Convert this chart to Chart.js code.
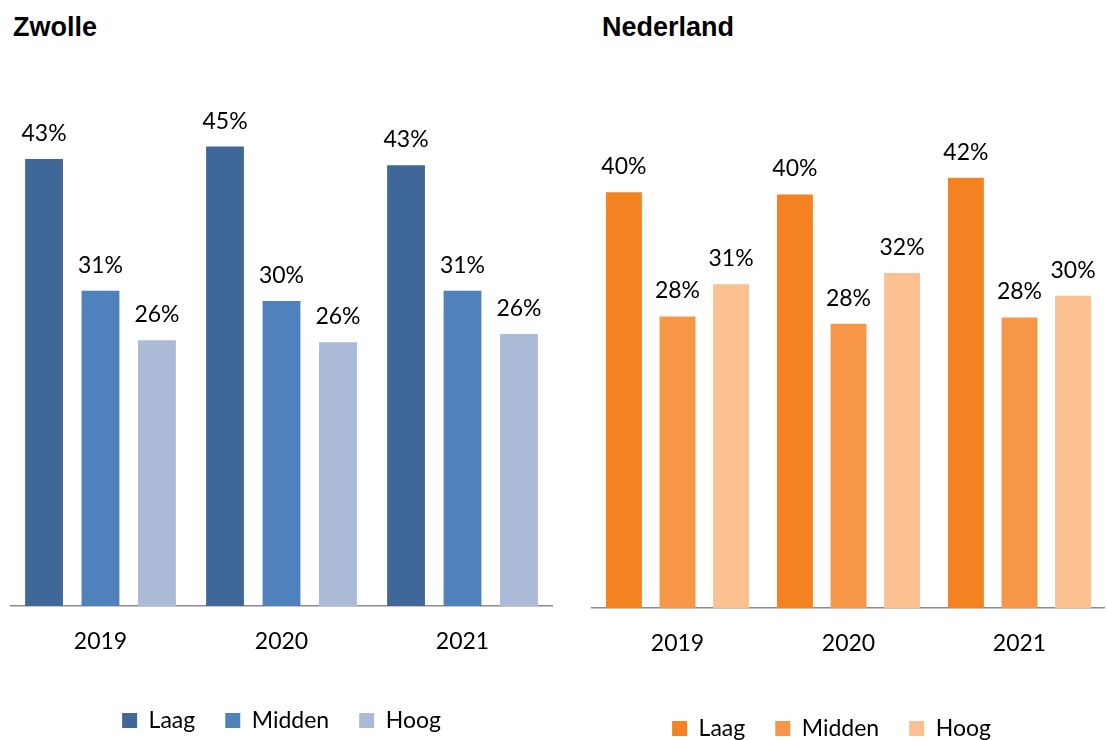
<!DOCTYPE html>
<html><head><meta charset="utf-8">
<script src="https://cdn.jsdelivr.net/npm/chart.js@4.4.1/dist/chart.umd.min.js"></script>
<style>
html,body{margin:0;padding:0;background:#fff;overflow:hidden;width:1107px;height:740px;position:relative;}
.title{position:absolute;font-family:"Liberation Sans",Arial,sans-serif;font-weight:bold;font-size:27px;line-height:27px;color:#000;top:14px;white-space:nowrap;}
canvas{position:absolute;top:0;}
#c1{left:10px;}
#c2{left:558px;}
</style></head><body>
<div class="title" style="left:13px">Zwolle</div>
<div class="title" style="left:602px">Nederland</div>
<canvas id="c1" width="543" height="742"></canvas>
<canvas id="c2" width="547" height="750"></canvas>
<script>
// Data
const years = ['2019', '2020', '2021'];
const seriesNames = ['Laag', 'Midden', 'Hoog'];
const zwolleLaag = [43.4, 44.6, 42.8];
const zwolleMidden = [30.6, 29.6, 30.6];
const zwolleHoog = [25.8, 25.6, 26.4];
const nlLaag = [40.2, 40.0, 41.6];
const nlMidden = [28.2, 27.5, 28.1];
const nlHoog = [31.3, 32.4, 30.2];

const zwolleColors = ['#3F6899', '#4F81BD', '#AABAD7'];
const nlColors = ['#F58220', '#F79646', '#FAC090'];

const FONT = 'Lato';

const valueLabels = {
  id: 'valueLabels',
  afterDatasetsDraw(chart) {
    const ctx = chart.ctx;
    ctx.save();
    ctx.font = '23px ' + FONT;
    ctx.fillStyle = '#000';
    ctx.textAlign = 'center';
    ctx.textBaseline = 'alphabetic';
    chart.data.datasets.forEach((ds, i) => {
      chart.getDatasetMeta(i).data.forEach((el, j) => {
        ctx.fillText(Math.round(ds.data[j]) + '%', el.x, el.y - 18);
      });
    });
    ctx.restore();
  }
};

function makeChart(id, vals, colors, opt) {
  new Chart(document.getElementById(id), {
    type: 'bar',
    data: {
      labels: years,
      datasets: seriesNames.map((n, i) => ({
        label: n,
        data: vals[i],
        backgroundColor: colors[i],
        borderWidth: 0,
        categoryPercentage: opt.cat,
        barPercentage: 0.67
      }))
    },
    options: {
      responsive: false,
      animation: false,
      layout: { padding: { top: 91, left: 0, right: 0, bottom: 0 } },
      plugins: {
        legend: {
          position: 'bottom',
          labels: { boxWidth: 15, boxHeight: 15, padding: 30, color: '#000', font: { family: FONT, size: 23 } }
        },
        tooltip: { enabled: false },
        title: { display: false }
      },
      scales: {
        x: {
          grid: { display: false, drawTicks: false },
          border: { display: true, color: '#8c8c8c', width: 1.5 },
          ticks: { padding: 22, color: '#000', font: { family: FONT, size: 23 } },
          afterFit: s => { s.height = opt.xH; }
        },
        y: {
          min: 0, max: 50,
          display: opt.yW > 0,
          grid: { display: false },
          border: { display: false },
          ticks: { display: false },
          afterFit: s => { s.width = opt.yW; }
        }
      }
    },
    plugins: [valueLabels]
  });
}

makeChart('c1', [zwolleLaag, zwolleMidden, zwolleHoog], zwolleColors, { cat: 0.936, yW: 0, xH: 73 });
makeChart('c2', [nlLaag, nlMidden, nlHoog], nlColors, { cat: 0.94, yW: 34, xH: 79 });
</script>
</body></html>
